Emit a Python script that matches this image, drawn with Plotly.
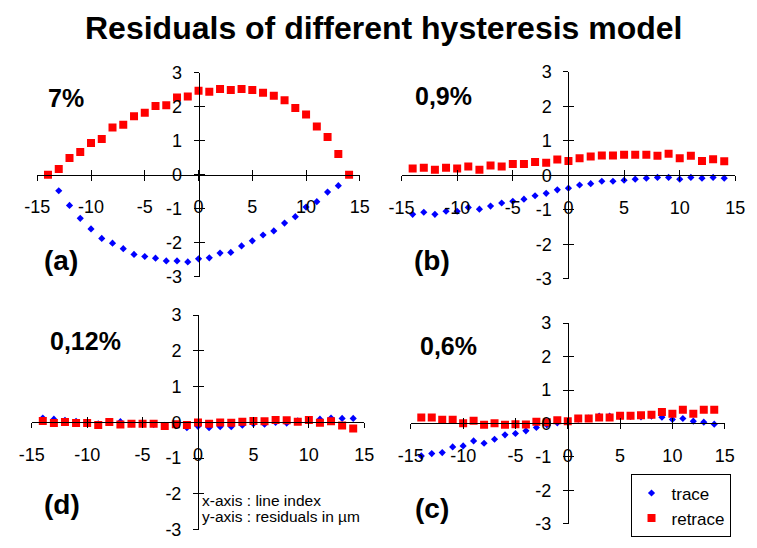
import plotly.graph_objects as go

# ---- data -------------------------------------------------------------
line_index = list(range(-14, 15))

# (a) 7 %
trace_a = [0.00, -0.47, -0.90, -1.28, -1.59, -1.87, -2.01, -2.17, -2.34, -2.40,
           -2.45, -2.53, -2.53, -2.56, -2.47, -2.44, -2.30, -2.28, -2.09, -1.94,
           -1.77, -1.65, -1.42, -1.23, -0.95, -0.79, -0.51, -0.32, 0.00]
retrace_a = [0.00, 0.17, 0.49, 0.67, 0.93, 1.05, 1.39, 1.47, 1.72, 1.82,
             2.02, 2.04, 2.27, 2.30, 2.47, 2.44, 2.52, 2.49, 2.52, 2.49,
             2.41, 2.32, 2.19, 1.96, 1.77, 1.42, 1.11, 0.61, 0.00]

# (b) 0,9 %
trace_b = [-1.13, -1.07, -1.13, -1.04, -1.04, -0.93, -0.98, -0.89, -0.80, -0.75,
           -0.69, -0.59, -0.52, -0.42, -0.37, -0.28, -0.24, -0.17, -0.17, -0.14,
           -0.11, -0.08, -0.06, -0.06, -0.11, -0.06, -0.08, -0.06, -0.08]
retrace_b = [0.20, 0.22, 0.16, 0.22, 0.20, 0.26, 0.16, 0.29, 0.26, 0.33,
             0.33, 0.39, 0.37, 0.46, 0.42, 0.50, 0.55, 0.58, 0.58, 0.60,
             0.60, 0.60, 0.57, 0.63, 0.50, 0.57, 0.42, 0.47, 0.41]

# (d) 0,12 %
trace_d = [0.12, 0.09, 0.06, 0.03, 0.00, -0.04, 0.01, 0.02, -0.04, -0.05,
           -0.06, -0.08, -0.09, -0.15, -0.11, -0.15, -0.12, -0.12, -0.08, -0.04,
           -0.05, 0.00, -0.02, 0.04, 0.07, 0.09, 0.12, 0.11, 0.11]
retrace_d = [0.04, -0.02, 0.01, -0.02, -0.02, -0.07, 0.01, -0.06, -0.04, -0.04,
             -0.04, -0.10, -0.05, -0.07, 0.00, -0.04, 0.00, -0.01, 0.02, 0.04,
             0.03, 0.07, 0.06, 0.02, 0.07, -0.01, 0.03, -0.09, -0.17]

# (c) 0,6 %
trace_c = [-0.97, -0.90, -0.87, -0.70, -0.67, -0.52, -0.59, -0.47, -0.34, -0.30,
           -0.22, -0.12, -0.04, 0.02, 0.06, 0.13, 0.16, 0.22, 0.22, 0.21,
           0.21, 0.20, 0.22, 0.19, 0.12, 0.15, 0.07, 0.04, -0.02]
retrace_c = [0.18, 0.18, 0.11, 0.11, 0.01, 0.08, -0.04, 0.01, -0.04, -0.02,
             -0.03, 0.05, 0.04, 0.10, 0.07, 0.15, 0.15, 0.18, 0.18, 0.23,
             0.23, 0.25, 0.26, 0.34, 0.29, 0.41, 0.29, 0.41, 0.41]

x_tickvals = [-15, -10, -5, 0, 5, 10, 15]
x_ticktext = ["-15", "-10", "-5", "0", "5", "10", "15"]
y_tickvals = [-3, -2, -1, 0, 1, 2, 3]
y_ticktext = ["-3", "-2", "-1", "0", "1", "2", "3"]

panel_models = ["7%", "0,9%", "0,12%", "0,6%"]
panel_letters = ["(a)", "(b)", "(d)", "(c)"]
series_names = ["trace", "retrace"]

# ---- layout helpers (pixel geometry of the 757 x 548 page) -------------
W, H = 757, 548
FONT = "Liberation Sans, Arial, sans-serif"

# plot box of each panel: left, right, top, bottom in pixels
boxes = [
    (25.0, 357.7, 65.0, 277.0),     # (a)
    (400.7, 745.0, 64.3, 279.0),    # (b)
    (19.3, 362.3, 316.7, 539.3),    # (d)
    (410.3, 734.0, 325.0, 533.3),   # (c)
]
# model label and panel letter centres in pixels
model_pos = [(55, 91), (444, 89), (75, 344), (449, 349)]
letter_pos = [(49, 260), (432, 260), (51, 513), (432, 517)]

panels = [
    (trace_a, retrace_a),
    (trace_b, retrace_b),
    (trace_d, retrace_d),
    (trace_c, retrace_c),
]


def px_x(x):
    return x / W


def px_y(y):
    return 1 - y / H


fig = go.Figure()
layout = dict(
    width=W, height=H,
    margin=dict(l=0, r=0, t=0, b=0),
    paper_bgcolor="white", plot_bgcolor="rgba(0,0,0,0)",
    font=dict(family=FONT, color="black"),
    showlegend=True,
    annotations=[],
)

axis_common = dict(showgrid=False, zeroline=False, color="black",
                   linecolor="black", linewidth=1, tickcolor="black",
                   tickwidth=1, ticklen=5, anchor="free")

for i, (trace_vals, retrace_vals) in enumerate(panels):
    n = i + 1
    left, right, top, bottom = boxes[i]
    xdom = [px_x(left), px_x(right)]
    ydom = [px_y(bottom), px_y(top)]
    xmid = (xdom[0] + xdom[1]) / 2
    ymid = (ydom[0] + ydom[1]) / 2
    xa, ya = f"x{n}", f"y{n}"
    xa_o, ya_o = f"x{n + 4}", f"y{n + 4}"

    # main axes crossing at the origin, ticks on the outer side
    layout[f"xaxis{n}"] = dict(axis_common, domain=xdom, range=[-15, 15],
                               position=ymid, showline=True, ticks="outside",
                               tickvals=x_tickvals, ticktext=x_ticktext,
                               tickfont=dict(size=18), ticklabelstandoff=11)
    layout[f"yaxis{n}"] = dict(axis_common, domain=ydom, range=[-3, 3],
                               position=xmid, showline=True, ticks="outside",
                               tickvals=y_tickvals, ticktext=y_ticktext,
                               tickfont=dict(size=18), ticklabelstandoff=8)
    # twin axes supplying the inner half of the crossing tick marks
    layout[f"xaxis{n + 4}"] = dict(axis_common, overlaying=xa, range=[-15, 15],
                                   position=ymid, showline=False, ticks="inside",
                                   tickvals=x_tickvals, showticklabels=False)
    layout[f"yaxis{n + 4}"] = dict(axis_common, overlaying=ya, range=[-3, 3],
                                   position=xmid, showline=False, ticks="inside",
                                   tickvals=y_tickvals, showticklabels=False)

    fig.add_trace(go.Scatter(x=[], y=[], xaxis=xa_o, yaxis=ya_o,
                             showlegend=False, hoverinfo="skip"))

    fig.add_trace(go.Scatter(
        x=line_index, y=trace_vals, xaxis=xa, yaxis=ya, mode="markers",
        name=series_names[0], legendgroup="trace", showlegend=(i == 0),
        marker=dict(symbol="diamond", size=5.5, color="#0000FF",
                    line=dict(width=0)),
    ))
    fig.add_trace(go.Scatter(
        x=line_index, y=retrace_vals, xaxis=xa, yaxis=ya, mode="markers",
        name=series_names[1], legendgroup="retrace", showlegend=(i == 0),
        marker=dict(symbol="square", size=8, color="#FF0000",
                    line=dict(width=0)),
    ))

    mx, my = model_pos[i]
    layout["annotations"].append(dict(
        text=f"<b>{panel_models[i]}</b>", x=px_x(mx), y=px_y(my),
        xref="paper", yref="paper", showarrow=False,
        xanchor="center", yanchor="middle", font=dict(size=25)))
    lx, ly = letter_pos[i]
    layout["annotations"].append(dict(
        text=f"<b>{panel_letters[i]}</b>", x=px_x(lx), y=px_y(ly),
        xref="paper", yref="paper", showarrow=False,
        xanchor="center", yanchor="middle", font=dict(size=28)))

# chart title
layout["annotations"].append(dict(
    text="<b>Residuals of different hysteresis model</b>",
    x=px_x(383), y=px_y(19), xref="paper", yref="paper", showarrow=False,
    xanchor="center", yanchor="middle", font=dict(size=32)))

# axis description
for text, ypix in [("x-axis : line index", 509), ("y-axis : residuals in µm", 526)]:
    layout["annotations"].append(dict(
        text=text, x=px_x(193), y=px_y(ypix), xref="paper", yref="paper",
        showarrow=False, xanchor="left", yanchor="middle",
        font=dict(size=15.5)))

layout["legend"] = dict(
    x=px_x(740), y=px_y(482), xanchor="right", yanchor="top",
    bgcolor="white", bordercolor="black", borderwidth=1,
    font=dict(size=17), itemwidth=30, tracegroupgap=0,
)

fig.update_layout(**layout)
fig.write_html("out.html")
